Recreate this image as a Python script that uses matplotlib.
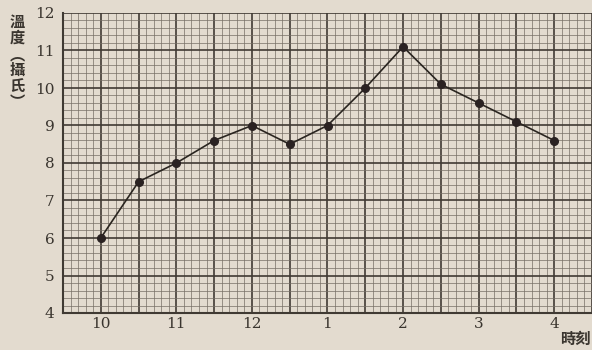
import numpy as np
import matplotlib.pyplot as plt

PAPER = "#e3dbcf"
INK = "#403a33"
GRID = "#766f65"

# hours of the day, one reading each half hour from 10 to 4
hour_labels = ["10", "11", "12", "1", "2", "3", "4"]
time_pos = [0, 0.5, 1, 1.5, 2, 2.5, 3, 3.5, 4, 4.5, 5, 5.5, 6]
temps = [6.0, 7.5, 8.0, 8.6, 9.0, 8.5, 9.0, 10.0, 11.1, 10.1, 9.6, 9.1, 8.6]
y_ticks = [4, 5, 6, 7, 8, 9, 10, 11, 12]

fig = plt.figure(figsize=(5.92, 3.5), dpi=100, facecolor=PAPER)
ax = fig.add_axes([63 / 592, 37 / 350, 529 / 592, 300 / 350])
ax.set_facecolor(PAPER)
x0, x1 = -0.5, 6.5
ax.set_xlim(x0, x1)
ax.set_ylim(4, 12)

# graph paper: fine lines every 1/5 of a heavy cell
for x in np.arange(x0, x1 + 1e-9, 0.1):
    heavy = abs(x * 2 - round(x * 2)) < 1e-6
    ax.axvline(x, color=INK if heavy else GRID,
               lw=1.2 if heavy else 0.5, zorder=1)
for y in np.arange(4, 12 + 1e-9, 0.2):
    heavy = abs(y - round(y)) < 1e-6
    ax.axhline(y, color=INK if heavy else GRID,
               lw=1.2 if heavy else 0.5, zorder=1)

ax.plot(time_pos, temps, color="#2a2520", lw=1.2, marker="o",
        markersize=5.5, markerfacecolor="#2a2222", markeredgecolor="#2a2222",
        zorder=3, clip_on=False)

for s in ax.spines.values():
    s.set_visible(False)
ax.spines["left"].set_visible(True)
ax.spines["bottom"].set_visible(True)
ax.spines["left"].set_color(INK)
ax.spines["bottom"].set_color(INK)
ax.spines["left"].set_linewidth(1.5)
ax.spines["bottom"].set_linewidth(1.5)

ax.set_xticks(range(len(hour_labels)))
ax.set_xticklabels(hour_labels)
ax.set_yticks(y_ticks)
ax.tick_params(length=0, colors="#3a352f", labelsize=11)
ax.tick_params(axis="y", pad=6)
ax.tick_params(axis="x", pad=3)
for lab in ax.get_xticklabels() + ax.get_yticklabels():
    lab.set_family("DejaVu Serif")

fig.text(17 / 592, 1 - 14 / 350, "溫\n度\n︵\n攝\n氏\n︶", ha="center", va="top",
         fontsize=11, linespacing=1.0, color="#3a352f", fontweight="bold",
         family=["Noto Sans CJK TC", "DejaVu Sans"])
fig.text(575 / 592, 1 - 339 / 350, "時刻", ha="center", va="center",
         fontsize=11, color="#3a352f", fontweight="bold",
         family=["Noto Sans CJK TC", "DejaVu Sans"])

fig.savefig("out.png", dpi=100, facecolor=PAPER)
